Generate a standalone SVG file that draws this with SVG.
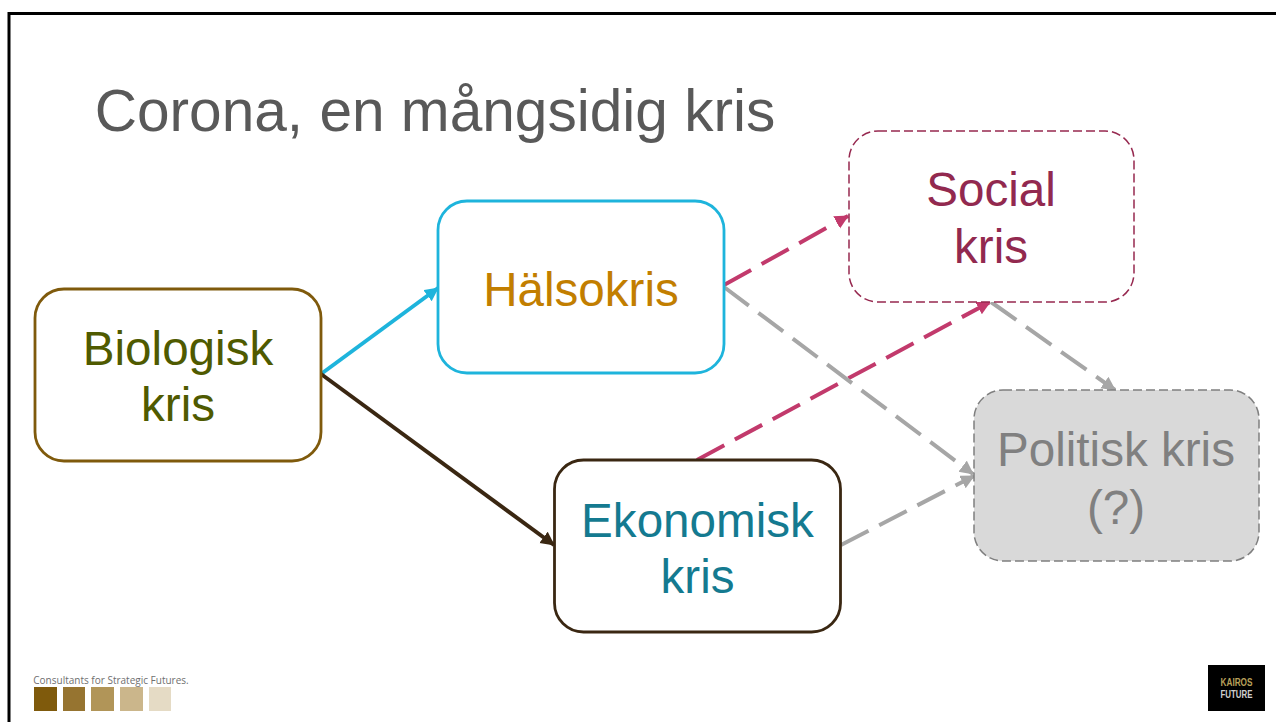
<svg xmlns="http://www.w3.org/2000/svg" width="1276" height="722" viewBox="0 0 1276 722">
<style>
text{font-family:"Liberation Sans",Arial,sans-serif;text-anchor:middle}
.t{font-size:47.6px}
.n{stroke-width:2.8;fill:#fff}
.c{fill:none;stroke-width:4}
.d{stroke-dasharray:31 12}
</style>
<defs>
<marker id="ab" markerUnits="userSpaceOnUse" markerWidth="16" markerHeight="16" refX="13" refY="7" orient="auto"><path d="M0 0L14 7L0 14z" fill="#1eb4dc"/></marker>
<marker id="ak" markerUnits="userSpaceOnUse" markerWidth="16" markerHeight="16" refX="13" refY="7" orient="auto"><path d="M0 0L14 7L0 14z" fill="#3a2712"/></marker>
<marker id="ap" markerUnits="userSpaceOnUse" markerWidth="16" markerHeight="16" refX="13" refY="7" orient="auto"><path d="M0 0L14 7L0 14z" fill="#c23a6c"/></marker>
<marker id="ag" markerUnits="userSpaceOnUse" markerWidth="16" markerHeight="16" refX="13" refY="7" orient="auto"><path d="M0 0L14 7L0 14z" fill="#a6a6a6"/></marker>
</defs>
<rect width="1276" height="722" fill="#fff"/>
<path d="M9 722V13.500H1276" fill="none" stroke="#000" stroke-width="3"/>
<text x="435" y="131" style="font-size:58.600px" fill="#595959">Corona, en mångsidig kris</text>
<g id="connectors">
<path class="c" d="M321 374L438 288" stroke="#1eb4dc" marker-end="url(#ab)"/>
<path class="c" d="M321 374L554 545" stroke="#3a2712" marker-end="url(#ak)"/>
<path class="c d" d="M724 285L848 216" stroke="#c23a6c" marker-end="url(#ap)"/>
<path class="c d" d="M697 460L990 302" stroke="#c23a6c" marker-end="url(#ap)"/>
<path class="c d" d="M724 287L973 474" stroke="#a6a6a6" marker-end="url(#ag)"/>
<path class="c d" d="M841 545L974 476" stroke="#a6a6a6" marker-end="url(#ag)"/>
<path class="c d" d="M991 302L1115 390" stroke="#a6a6a6" marker-end="url(#ag)"/>
</g>
<g id="biologisk"><rect class="n" x="35" y="289" width="286" height="172" rx="29" stroke="#7f5a0c"/><text class="t" x="178" y="365" fill="#4f5a00">Biologisk</text><text class="t" x="178" y="421" fill="#4f5a00">kris</text></g>
<g id="halsokris"><rect class="n" x="438" y="201" width="286" height="172" rx="29" stroke="#1eb4dc"/><text class="t" x="581" y="306" fill="#c27e00">Hälsokris</text></g>
<g id="ekonomisk"><rect class="n" x="554.500" y="460" width="286" height="172" rx="29" stroke="#3a2712"/><text class="t" x="697.500" y="537" fill="#147a90">Ekonomisk</text><text class="t" x="697.500" y="593" fill="#147a90">kris</text></g>
<g id="social"><rect x="849" y="131" width="285" height="171" rx="29" fill="#fff" stroke="#96284f" stroke-width="1.500" stroke-dasharray="9 4"/><text class="t" x="991" y="206" fill="#92294f">Social</text><text class="t" x="991" y="263" fill="#92294f">kris</text></g>
<g id="politisk"><rect x="974" y="390" width="285" height="171" rx="29" fill="#d9d9d9" stroke="#7f7f7f" stroke-width="1.500" stroke-dasharray="9 4"/><text class="t" x="1116" y="466" fill="#808080">Politisk kris</text><text class="t" x="1116" y="524" fill="#808080">(?)</text></g>
<g id="footer">
<text x="111" y="684" style="font-size:10px;font-family:'Open Sans','Liberation Sans',sans-serif" fill="#6f6f6f">Consultants for Strategic Futures.</text>
<rect x="34" y="687" width="23" height="24" fill="#7f5a0c"/>
<rect x="63" y="687" width="22" height="24" fill="#967430"/>
<rect x="91" y="687" width="23" height="24" fill="#b19558"/>
<rect x="120" y="687" width="23" height="24" fill="#cbb68b"/>
<rect x="149" y="687" width="22" height="24" fill="#e5dbc5"/>
<rect x="1208" y="665" width="57" height="46" fill="#000"/>
<text x="1236.500" y="686" style="font-size:10px;font-weight:bold;font-family:'Liberation Sans Narrow','Liberation Sans',sans-serif" textLength="32" lengthAdjust="spacingAndGlyphs" fill="#b8a15a">KAIROS</text>
<text x="1236.500" y="698" style="font-size:10px;font-weight:bold;font-family:'Liberation Sans Narrow','Liberation Sans',sans-serif" textLength="32" lengthAdjust="spacingAndGlyphs" fill="#d0d0d0">FUTURE</text>
</g>
</svg>
